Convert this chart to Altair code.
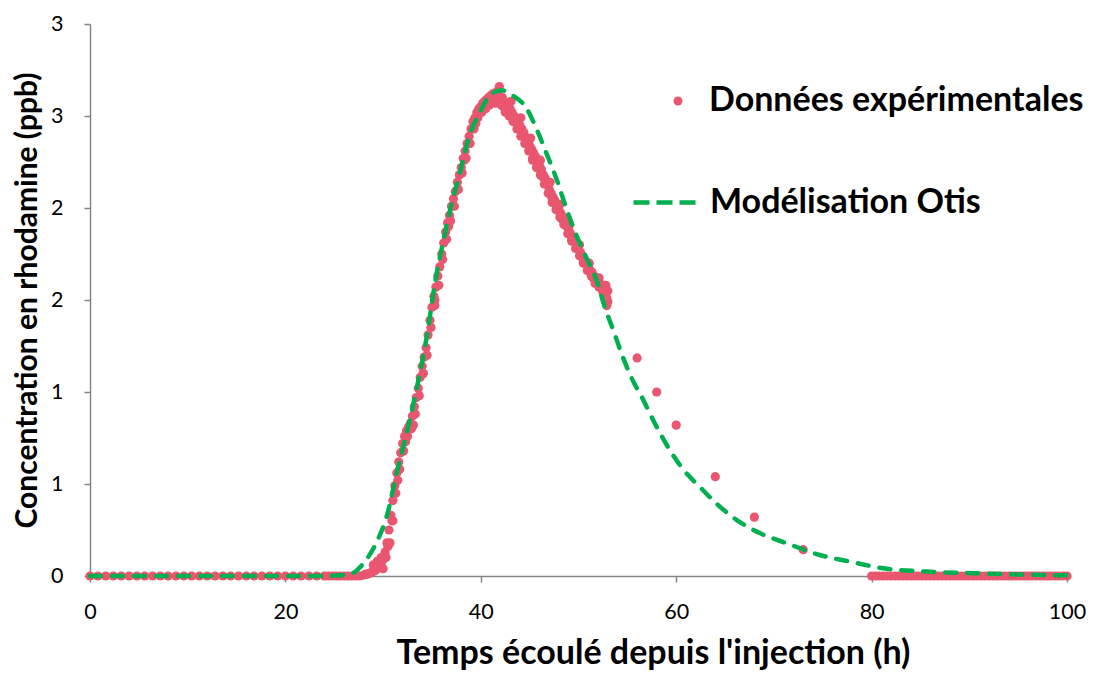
import altair as alt
import pandas as pd

# ---------------- data ----------------
# Experimental data: sparse early readings (baseline)
exp_x_early = [0.0, 0.8, 1.6, 2.4, 3.2, 4.0, 4.8, 5.6, 6.4, 7.2, 8.0, 8.8, 9.6, 10.4,
               11.2, 12.0, 12.8, 13.6, 14.4, 15.2, 16.0, 16.8, 17.6, 18.4, 19.2, 20.0,
               20.8, 21.6, 22.4, 23.2]
exp_y_early = [0.0] * 30

# Experimental data: dense record 24 h -> 53 h
exp_x_dense = [24.0, 24.4, 24.8, 25.2, 25.6, 26.0, 26.4, 26.8, 27.2, 27.6,
               28.0, 28.2, 28.4, 28.6, 28.8, 29.0, 29.2, 29.4, 29.6, 29.8,
               30.0, 30.2, 30.4, 30.6, 30.8, 31.0, 31.2, 31.4, 31.6, 31.8,
               32.0, 32.2, 32.4, 32.6, 32.8, 33.0, 33.2, 33.4, 33.6, 33.8,
               34.0, 34.2, 34.4, 34.6, 34.8, 35.0, 35.2, 35.4, 35.6, 35.8,
               36.0, 36.2, 36.4, 36.6, 36.8, 37.0, 37.2, 37.4, 37.6, 37.8,
               38.0, 38.2, 38.4, 38.6, 38.8, 39.0, 39.2, 39.4, 39.6, 39.8,
               40.0, 40.2, 40.4, 40.6, 40.8, 41.0, 41.2, 41.4, 41.6, 41.8,
               42.0, 42.2, 42.4, 42.6, 42.8, 43.0, 43.2, 43.4, 43.6, 43.8,
               44.0, 44.2, 44.4, 44.6, 44.8, 45.0, 45.2, 45.4, 45.6, 45.8,
               46.0, 46.2, 46.4, 46.6, 46.8, 47.0, 47.2, 47.4, 47.6, 47.8,
               48.0, 48.2, 48.4, 48.6, 48.8, 49.0, 49.2, 49.4, 49.6, 49.8,
               50.0, 50.2, 50.4, 50.6, 50.8, 51.0, 51.2, 51.4, 51.6, 51.8,
               52.0, 52.2, 52.4, 52.6, 52.8, 53.0]
exp_y_dense = [0.0, 0.0, 0.0, 0.0, 0.0, 0.0, 0.0, 0.0, 0.0, 0.0,
               0.005, 0.01, 0.01, 0.015, 0.02, 0.025, 0.03, 0.04, 0.05, 0.07,
               0.09, 0.13, 0.18, 0.25, 0.33, 0.41, 0.49, 0.56, 0.62, 0.67,
               0.72, 0.76, 0.79, 0.81, 0.83, 0.87, 0.92, 0.97, 1.02, 1.08,
               1.14, 1.19, 1.24, 1.31, 1.39, 1.46, 1.52, 1.57, 1.63, 1.68,
               1.75, 1.81, 1.87, 1.92, 1.96, 2.01, 2.05, 2.09, 2.14, 2.18,
               2.22, 2.27, 2.31, 2.35, 2.39, 2.43, 2.47, 2.49, 2.52, 2.54,
               2.55, 2.57, 2.58, 2.59, 2.60, 2.61, 2.62, 2.62, 2.63, 2.64,
               2.60, 2.60, 2.58, 2.57, 2.55, 2.54, 2.52, 2.50, 2.49, 2.47,
               2.45, 2.43, 2.41, 2.38, 2.36, 2.34, 2.32, 2.30, 2.28, 2.25,
               2.23, 2.21, 2.18, 2.16, 2.13, 2.10, 2.08, 2.06, 2.04, 2.01,
               1.99, 1.97, 1.95, 1.93, 1.90, 1.88, 1.86, 1.84, 1.82, 1.80,
               1.78, 1.76, 1.74, 1.72, 1.70, 1.68, 1.66, 1.65, 1.63, 1.62,
               1.60, 1.59, 1.58, 1.56, 1.53, 1.49]

# Experimental data: scattered readings around the main record (noise of the probe)
exp_x_noise = [29.0, 29.4, 29.8, 30.0, 30.3, 30.5, 30.9, 31.5, 32.3, 33.1,
               34.1, 35.3, 36.7, 38.3, 39.5, 40.5, 41.1, 41.9, 42.3, 42.7,
               43.3, 44.3, 45.3, 46.3, 47.3, 48.3, 49.3, 50.5, 51.5, 52.5,
               52.9, 53.0,
               30.7, 31.0, 31.3, 31.7, 32.1, 32.5, 32.9, 33.3, 33.7, 34.1,
               34.5, 34.9, 35.3, 35.7, 36.1, 36.5, 36.9, 37.3, 37.7, 38.1,
               38.5, 38.9, 39.3, 39.7, 40.1, 40.5, 40.9, 41.5, 41.7, 42.1, 42.5,
               42.9, 43.3, 43.7, 44.1, 44.5, 44.9, 45.3, 45.7, 46.1, 46.5,
               46.9, 47.3, 47.7, 48.1, 48.5, 48.9, 49.3, 49.7, 50.1, 50.5,
               50.9, 51.3, 51.7, 52.1, 52.5, 52.9,
               43.1, 44.1, 45.1, 46.1, 47.1, 48.1, 49.1, 50.1, 51.1, 52.1, 52.8]
exp_y_noise = [0.06, 0.08, 0.10, 0.04, 0.10, 0.16, 0.30, 0.52, 0.73, 0.82,
               1.10, 1.50, 1.90, 2.26, 2.46, 2.55, 2.58, 2.66, 2.55, 2.53,
               2.48, 2.40, 2.27, 2.17, 2.05, 1.94, 1.83, 1.71, 1.62, 1.55,
               1.47, 1.55,
               0.18, 0.30, 0.45, 0.58, 0.68, 0.76, 0.80, 0.88, 0.98, 1.10,
               1.20, 1.35, 1.47, 1.58, 1.72, 1.83, 1.93, 2.01, 2.10, 2.19,
               2.27, 2.35, 2.43, 2.49, 2.52, 2.54, 2.56, 2.57, 2.58, 2.56, 2.52,
               2.50, 2.47, 2.43, 2.39, 2.35, 2.31, 2.26, 2.22, 2.18, 2.13,
               2.08, 2.03, 1.99, 1.95, 1.91, 1.86, 1.82, 1.78, 1.74, 1.70,
               1.66, 1.63, 1.59, 1.57, 1.54, 1.51,
               2.58, 2.49, 2.38, 2.26, 2.14, 2.02, 1.91, 1.80, 1.70, 1.62, 1.58]

# Experimental data: sparse readings in the tail
exp_x_tail = [56.0, 58.0, 60.0, 64.0, 68.0, 73.0]
exp_y_tail = [1.185, 1.0, 0.82, 0.54, 0.32, 0.143]

# Experimental data: dense record 80 h -> 100 h (back to baseline)
exp_x_late = [80.0, 80.4, 80.8, 81.2, 81.6, 82.0, 82.4, 82.8, 83.2, 83.6,
              84.0, 84.4, 84.8, 85.2, 85.6, 86.0, 86.4, 86.8, 87.2, 87.6,
              88.0, 88.4, 88.8, 89.2, 89.6, 90.0, 90.4, 90.8, 91.2, 91.6,
              92.0, 92.4, 92.8, 93.2, 93.6, 94.0, 94.4, 94.8, 95.2, 95.6,
              96.0, 96.4, 96.8, 97.2, 97.6, 98.0, 98.4, 98.8, 99.2, 99.6, 100.0]
exp_y_late = [0.0] * 51

# OTIS model curve
model_x = [0.0, 10.0, 20.0, 24.0, 26.6, 28.0, 29.3, 30.4, 31.4, 32.6, 33.4, 34.5,
           35.3, 36.2, 37.0, 37.9, 38.7, 39.9, 40.9, 42.1, 43.3, 44.7, 45.7, 46.7,
           47.8, 48.8, 49.8, 50.8, 51.9, 52.7, 53.6, 54.4, 55.4, 56.6, 58.0, 59.4,
           60.7, 62.4, 64.1, 66.2, 68.6, 71.3, 74.7, 77.8, 81.2, 85.6, 90.8, 95.0,
           100.0]
model_y = [0.0, 0.0, 0.0, 0.0, 0.01, 0.07, 0.18, 0.33, 0.56, 0.82, 1.01, 1.31,
           1.59, 1.83, 2.02, 2.20, 2.37, 2.52, 2.61, 2.64, 2.61, 2.54, 2.43, 2.30,
           2.15, 1.99, 1.85, 1.73, 1.60, 1.46, 1.33, 1.21, 1.08, 0.96, 0.81, 0.68,
           0.58, 0.485, 0.395, 0.304, 0.232, 0.178, 0.114, 0.078, 0.042, 0.024,
           0.015, 0.008, 0.004]

y_ticks = [0, 0.5, 1, 1.5, 2, 2.5, 3]
x_ticks = [0, 20, 40, 60, 80, 100]

EXP_LABEL = "Données expérimentales"
MOD_LABEL = "Modélisation Otis"

exp_df = pd.DataFrame({
    "t": exp_x_early + exp_x_dense + exp_x_noise + exp_x_tail + exp_x_late,
    "c": exp_y_early + exp_y_dense + exp_y_noise + exp_y_tail + exp_y_late,
})
exp_df["serie"] = EXP_LABEL
mod_df = pd.DataFrame({"t": model_x, "c": model_y})
mod_df["serie"] = MOD_LABEL

FONT = "Lato"
AXIS_GREY = "#868686"
PINK = "#E9566F"
GREEN = "#00B050"

x_scale = alt.Scale(domain=[0, 100], nice=False, zero=False)
y_scale = alt.Scale(domain=[0, 3], nice=False)

x_axis = alt.Axis(values=x_ticks, grid=False, domainColor=AXIS_GREY, domainWidth=1.5,
                  tickColor=AXIS_GREY, tickWidth=1.5, tickSize=6, labelPadding=19,
                  labelFlush=False, labelFont=FONT, labelFontSize=21.5,
                  labelColor="#000000",
                  title="Temps écoulé depuis l'injection (h)", titleFont=FONT,
                  titleFontSize=34, titleFontWeight="bold", titleColor="#000000",
                  titlePadding=14, titleX=563, titleAnchor="start", titleAlign="center")
y_axis = alt.Axis(values=y_ticks, labelExpr="round(datum.value)", grid=False,
                  domainColor=AXIS_GREY, domainWidth=1.5, tickColor=AXIS_GREY,
                  tickWidth=1.5, tickSize=6, labelPadding=21, labelFont=FONT,
                  labelFontSize=21.5, labelColor="#000000",
                  title="Concentration en rhodamine (ppb)", titleFont=FONT,
                  titleFontSize=30, titleFontWeight="bold", titleColor="#000000",
                  titlePadding=8)

points = alt.Chart(exp_df).mark_circle(size=85, opacity=1).encode(
    x=alt.X("t:Q", scale=x_scale, axis=x_axis),
    y=alt.Y("c:Q", scale=y_scale, axis=y_axis),
    color=alt.Color("serie:N",
                    scale=alt.Scale(domain=[EXP_LABEL], range=[PINK]),
                    legend=alt.Legend(title=None, orient="none", legendX=571, legendY=60,
                                      padding=0, symbolType="circle", symbolSize=80,
                                      symbolStrokeWidth=0, labelOffset=14, labelLimit=0,
                                      labelFont=FONT, labelFontSize=34,
                                      labelFontWeight="bold", labelColor="#000000")),
)

line = alt.Chart(mod_df).mark_line(strokeWidth=4.5, strokeDash=[11, 11],
                                   strokeCap="round", interpolate="monotone").encode(
    x=alt.X("t:Q", scale=x_scale),
    y=alt.Y("c:Q", scale=y_scale),
    color=alt.Color("serie:N",
                    scale=alt.Scale(domain=[MOD_LABEL], range=[GREEN]),
                    legend=alt.Legend(title=None, orient="none", legendX=541, legendY=145,
                                      padding=0, symbolType="stroke", symbolSize=3844,
                                      symbolStrokeWidth=4.5, symbolDash=[16, 7],
                                      labelOffset=12, labelLimit=0, labelFont=FONT,
                                      labelFontSize=34, labelFontWeight="bold",
                                      labelColor="#000000")),
)

chart = alt.layer(points, line).resolve_scale(color="independent").resolve_legend(
    color="independent"
).properties(
    width=977, height=552,
    autosize=alt.AutoSizeParams(type="none"),
    padding={"left": 82, "top": 16, "right": 22, "bottom": 95},
).configure_view(stroke=None)

chart.save("out.html", embed_options={"renderer": "svg", "actions": False})
